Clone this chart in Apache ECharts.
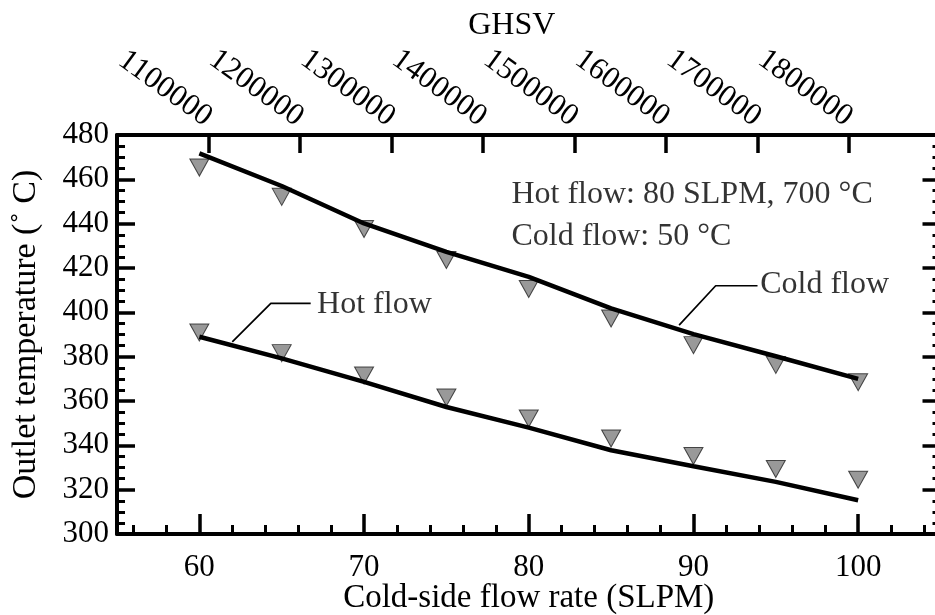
<!DOCTYPE html>
<html>
<head>
<meta charset="utf-8">
<script src="https://cdn.jsdelivr.net/npm/echarts@6/dist/echarts.min.js"></script>
<style>
html,body{margin:0;padding:0;background:#fff;}
#c{width:935px;height:615px;}
</style>
</head>
<body>
<div id="c"></div>
<script>
// ---- data ----
const flow = [60, 65, 70, 75, 80, 85, 90, 95, 100];
const coldMeasured = [465.3, 452.1, 437.6, 423.6, 410.5, 397.2, 385.2, 376.3, 368.5];
const hotMeasured  = [390.9, 381.6, 371.5, 361.6, 352.1, 343.1, 335.2, 329.3, 324.5];
const coldModel    = [471.7, 457.0, 440.1, 427.3, 416.0, 401.8, 390.2, 380.2, 370.0];
const hotModel     = [389.0, 379.2, 368.6, 357.3, 348.0, 337.8, 330.6, 323.5, 315.2];
const xMajorTicks  = [60, 70, 80, 90, 100];
const xMinorTicks  = [56, 58, 62, 64, 66, 68, 72, 74, 76, 78, 82, 84, 86, 88, 92, 94, 96, 98, 102, 104];
const ghsvTicks    = [1100000, 1200000, 1300000, 1400000, 1500000, 1600000, 1700000, 1800000];
const hotLeader    = [[62.0, 386.7], [64.34, 404.0], [66.76, 404.0]];
const coldLeader   = [[89.13, 394.2], [91.35, 412.0], [93.89, 412.0]];
const curveLabels  = [{name: 'Hot flow', value: [67.15, 403.6]}, {name: 'Cold flow', value: [94.05, 412.3]}];
const noteLabels   = [{name: 'Hot flow: 80 SLPM, 700 °C', value: [78.95, 453.0]}, {name: 'Cold flow: 50 °C', value: [78.95, 434.2]}];

const FONT = '"Liberation Serif", "Times New Roman", serif';
const pair = (xs, ys) => xs.map((x, i) => [x, ys[i]]);

const chart = echarts.init(document.getElementById('c'), null, {renderer: 'canvas'});
const black = '#000';
const yCommon = {
  type: 'value', min: 300, max: 480, interval: 20, gridIndex: 0,
  axisLine: {show: true, lineStyle: {color: black, width: 4}},
  axisTick: {show: true, inside: true, length: 18, lineStyle: {color: black, width: 3.5}},
  minorTick: {show: true, splitNumber: 4, length: 8, lineStyle: {color: black, width: 3}},
  splitLine: {show: false},
  minorSplitLine: {show: false}
};
const gridBox = {left: 117, top: 135, right: -5.5, bottom: 81, containLabel: false, outerBoundsMode: 'none'};

chart.setOption({
  backgroundColor: '#fff',
  animation: false,
  textStyle: {fontFamily: FONT, color: black},
  grid: [Object.assign({}, gridBox), Object.assign({}, gridBox)],
  xAxis: [
    {
      type: 'value', gridIndex: 0, position: 'bottom', min: 55, max: 105,
      axisLine: {show: true, onZero: false, lineStyle: {color: black, width: 4}},
      axisTick: {show: true, inside: true, length: 20, customValues: xMajorTicks, lineStyle: {color: black, width: 3.5}},
      axisLabel: {show: true, customValues: xMajorTicks, fontSize: 31, margin: 18, color: black, fontFamily: FONT},
      splitLine: {show: false},
      name: 'Cold-side flow rate (SLPM)', nameLocation: 'middle', nameGap: 48, nameMoveOverlap: false,
      nameTextStyle: {fontSize: 33, color: black, fontFamily: FONT}
    },
    {
      type: 'value', gridIndex: 0, position: 'top', min: 1000000, max: 1900000, interval: 100000,
      axisLine: {show: true, onZero: false, lineStyle: {color: black, width: 4}},
      axisTick: {show: true, inside: true, length: 18, customValues: ghsvTicks, lineStyle: {color: black, width: 3.5}},
      axisLabel: {show: true, customValues: ghsvTicks, rotate: 36, fontSize: 31, margin: 15, color: black,
        fontFamily: FONT, formatter: v => String(v)},
      splitLine: {show: false},
      name: 'GHSV', nameLocation: 'middle', nameGap: 93, nameMoveOverlap: false,
      nameTextStyle: {fontSize: 32, color: black, fontFamily: FONT, padding: [0, 34, 0, 0]}
    },
    {
      type: 'value', gridIndex: 1, position: 'bottom', min: 55, max: 105,
      axisLine: {show: false},
      axisTick: {show: true, inside: true, length: 9, customValues: xMinorTicks, lineStyle: {color: black, width: 3}},
      axisLabel: {show: false},
      splitLine: {show: false}
    }
  ],
  yAxis: [
    Object.assign({}, yCommon, {
      position: 'left',
      axisLabel: {show: true, fontSize: 31, margin: 8, color: black, fontFamily: FONT},
      name: 'Outlet temperature (˚ C)', nameLocation: 'middle', nameGap: 74, nameRotate: 90, nameMoveOverlap: false,
      nameTextStyle: {fontSize: 34, color: black, fontFamily: FONT}
    }),
    Object.assign({}, yCommon, {position: 'right', axisLabel: {show: false}}),
    {type: 'value', gridIndex: 1, min: 300, max: 480, show: false}
  ],
  series: [
    {
      type: 'scatter', xAxisIndex: 0, yAxisIndex: 0, data: pair(flow, coldMeasured),
      symbol: 'triangle', symbolRotate: 180, symbolSize: [19, 17],
      itemStyle: {color: '#808080', borderColor: '#222', borderWidth: 1}, silent: true
    },
    {
      type: 'scatter', xAxisIndex: 0, yAxisIndex: 0, data: pair(flow, hotMeasured),
      symbol: 'triangle', symbolRotate: 180, symbolSize: [19, 17],
      itemStyle: {color: '#808080', borderColor: '#222', borderWidth: 1}, silent: true
    },
    {
      type: 'line', xAxisIndex: 0, yAxisIndex: 0, data: pair(flow, coldModel),
      showSymbol: false, symbol: 'none', lineStyle: {color: black, width: 4.5}, silent: true
    },
    {
      type: 'line', xAxisIndex: 0, yAxisIndex: 0, data: pair(flow, hotModel),
      showSymbol: false, symbol: 'none', lineStyle: {color: black, width: 4.5}, silent: true
    },
    {
      type: 'line', xAxisIndex: 0, yAxisIndex: 0, data: hotLeader,
      symbol: 'none', lineStyle: {color: black, width: 1.7}, silent: true
    },
    {
      type: 'line', xAxisIndex: 0, yAxisIndex: 0, data: coldLeader,
      symbol: 'none', lineStyle: {color: black, width: 1.7}, silent: true
    },
    {
      type: 'scatter', xAxisIndex: 0, yAxisIndex: 0, data: curveLabels.concat(noteLabels),
      symbolSize: 0, silent: true,
      label: {show: true, position: 'right', distance: 0, formatter: p => p.name,
        fontSize: 32, color: black, fontFamily: FONT}
    }
  ]
});
</script>
</body>
</html>
